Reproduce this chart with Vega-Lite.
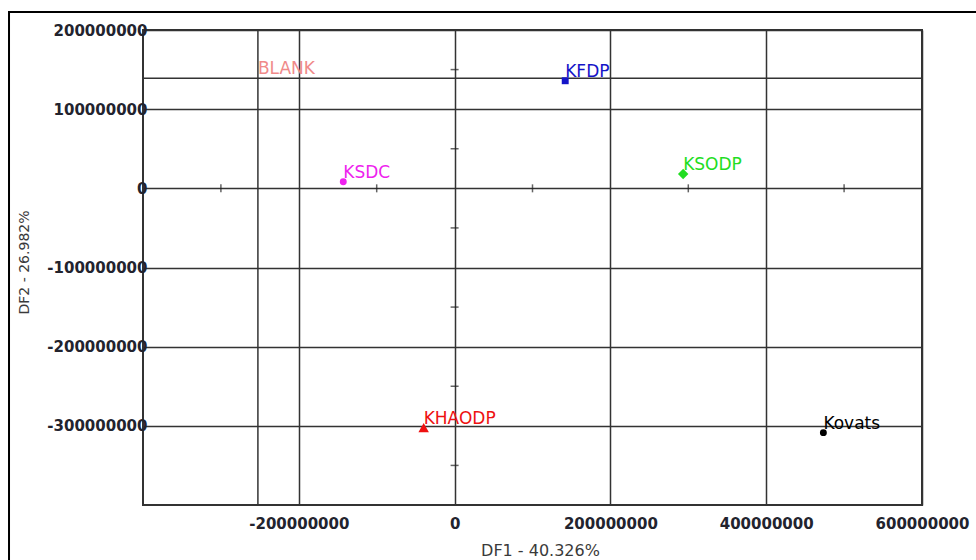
{
  "$schema": "https://vega.github.io/schema/vega-lite/v6.json",
  "width": 779,
  "height": 475,
  "autosize": {"type": "none"},
  "padding": {"left": 143, "top": 30, "right": 54, "bottom": 55},
  "background": "white",
  "config": {
    "view": {"stroke": "#333333", "strokeWidth": 2},
    "font": "DejaVu Sans"
  },
  "datasets": {
    "points": [
      {"name": "BLANK", "x": -252500000, "y": 138900000},
      {"name": "KFDP", "x": 142000000, "y": 135900000},
      {"name": "KSDC", "x": -142900000, "y": 8300000},
      {"name": "KSODP", "x": 293400000, "y": 18100000},
      {"name": "KHAODP", "x": -39700000, "y": -302300000},
      {"name": "Kovats", "x": 473400000, "y": -308600000}
    ],
    "vticks": [
      {"v": 150000000}, {"v": 50000000}, {"v": -50000000},
      {"v": -150000000}, {"v": -250000000}, {"v": -350000000}
    ],
    "hticks": [
      {"v": -300000000}, {"v": -100000000}, {"v": 100000000},
      {"v": 300000000}, {"v": 500000000}
    ]
  },
  "layer": [
    {
      "data": {"values": [{"frame": 1}]},
      "mark": {"type": "rect", "fill": "transparent", "stroke": "#000000", "strokeWidth": 2, "clip": false},
      "encoding": {
        "x": {"datum": -572000000, "type": "quantitative", "scale": {"domain": [-400000000, 600000000], "nice": false, "zero": false},
          "axis": {
            "values": [-200000000, 0, 200000000, 400000000, 600000000],
            "labelExpr": "'' + datum.value",
            "grid": true, "gridColor": "#333333", "gridWidth": 1.5, "gridOpacity": 1,
            "domain": false, "ticks": false,
            "labelFont": "DejaVu Sans", "labelFontSize": 15, "labelFontWeight": "bold", "labelColor": "#22232e",
            "labelPadding": 11, "labelFlush": false, "labelOverlap": false,
            "title": "DF1 - 40.326%", "titleFont": "DejaVu Sans", "titleFontSize": 16, "titleFontWeight": "normal", "titleColor": "#3a3a3a",
            "titleX": 397, "titleY": 50, "titleBaseline": "alphabetic", "titleAnchor": "middle"
          }},
        "x2": {"datum": 700000000},
        "y": {"datum": 222600000, "type": "quantitative", "scale": {"domain": [-400000000, 200000000], "nice": false, "zero": false},
          "axis": {
            "values": [200000000, 100000000, 0, -100000000, -200000000, -300000000],
            "labelExpr": "'' + datum.value",
            "grid": true, "gridColor": "#333333", "gridWidth": 1.5, "gridOpacity": 1,
            "domain": false, "ticks": false,
            "labelFont": "DejaVu Sans", "labelFontSize": 15, "labelFontWeight": "bold", "labelColor": "#22232e",
            "labelPadding": -4, "labelFlush": false, "labelOverlap": false, "labelBaseline": "middle",
            "title": "DF2 - 26.982%", "titleFont": "DejaVu Sans", "titleFontSize": 14, "titleFontWeight": "normal", "titleColor": "#3a3a3a",
            "titleAngle": -90, "titleX": -115, "titleY": 232, "titleBaseline": "alphabetic", "titleAnchor": "middle"
          }},
        "y2": {"datum": -500000000}
      }
    },
    {
      "data": {"name": "points"},
      "transform": [{"filter": "datum.name === 'BLANK'"}],
      "mark": {"type": "rule", "color": "#333333", "strokeWidth": 1.5},
      "encoding": {"x": {"field": "x", "type": "quantitative"}}
    },
    {
      "data": {"name": "points"},
      "transform": [{"filter": "datum.name === 'BLANK'"}],
      "mark": {"type": "rule", "color": "#333333", "strokeWidth": 1.5},
      "encoding": {"y": {"field": "y", "type": "quantitative"}}
    },
    {
      "data": {"name": "vticks"},
      "mark": {"type": "tick", "orient": "horizontal", "color": "#222222", "size": 8, "thickness": 1.5},
      "encoding": {
        "x": {"datum": 0, "type": "quantitative"},
        "y": {"field": "v", "type": "quantitative"}
      }
    },
    {
      "data": {"name": "hticks"},
      "mark": {"type": "tick", "orient": "vertical", "color": "#222222", "size": 8, "thickness": 1.5},
      "encoding": {
        "x": {"field": "v", "type": "quantitative"},
        "y": {"datum": 0, "type": "quantitative"}
      }
    },
    {
      "data": {"name": "points"},
      "transform": [{"filter": "datum.name === 'KFDP' || datum.name === 'KSDC' || datum.name === 'Kovats'"}],
      "mark": {"type": "point", "filled": true, "opacity": 1, "size": 48},
      "encoding": {
        "x": {"field": "x", "type": "quantitative"},
        "y": {"field": "y", "type": "quantitative"},
        "shape": {"field": "name", "type": "nominal", "legend": null,
          "scale": {"domain": ["BLANK", "KFDP", "KSDC", "KSODP", "KHAODP", "Kovats"],
                    "range": ["circle", "square", "circle", "diamond", "triangle-up", "circle"]}},
        "color": {"field": "name", "type": "nominal", "legend": null,
          "scale": {"domain": ["BLANK", "KFDP", "KSDC", "KSODP", "KHAODP", "Kovats"],
                    "range": ["#f08a8a", "#1414c8", "#ee22ee", "#22dd22", "#ee1111", "#000000"]}}
      }
    },
    {
      "data": {"name": "points"},
      "transform": [{"filter": "datum.name === 'KSODP' || datum.name === 'KHAODP'"}],
      "mark": {"type": "point", "filled": true, "opacity": 1, "size": 110},
      "encoding": {
        "x": {"field": "x", "type": "quantitative"},
        "y": {"field": "y", "type": "quantitative"},
        "shape": {"field": "name", "type": "nominal", "legend": null},
        "color": {"field": "name", "type": "nominal", "legend": null}
      }
    },
    {
      "data": {"name": "points"},
      "mark": {"type": "text", "align": "left", "baseline": "alphabetic", "dx": 0, "dy": -4, "font": "DejaVu Sans", "fontSize": 17},
      "encoding": {
        "x": {"field": "x", "type": "quantitative"},
        "y": {"field": "y", "type": "quantitative"},
        "text": {"field": "name"},
        "color": {"field": "name", "type": "nominal", "legend": null,
          "scale": {"domain": ["BLANK", "KFDP", "KSDC", "KSODP", "KHAODP", "Kovats"],
                    "range": ["#f08a8a", "#2a2ad0", "#e020e0", "#44e044", "#e82020", "#111111"]}}
      }
    }
  ]
}
